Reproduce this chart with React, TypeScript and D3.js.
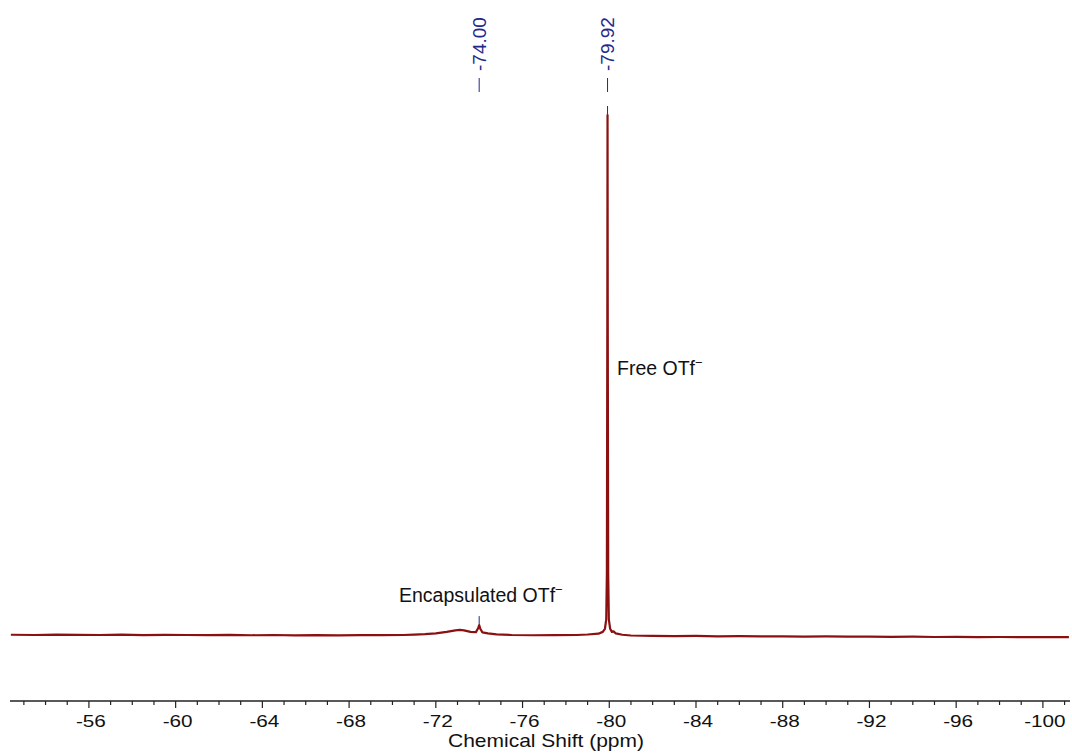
import React, { useEffect, useRef } from 'react';
import * as d3 from 'd3';

// chemical shift (ppm) of each point
const shifts = [
	-52.4, -53.5, -54.5, -55.5, -56.5, -57.5, -58.5, -59.5, -60.5, -61.5, -62.5, -63.5, -64.5, -65.5,
	-66.5, -67.5, -68.5, -69.5, -70.5, -71.0, -71.5, -72.0, -72.5, -72.9, -73.1, -73.3, -73.6, -73.85,
	-73.95, -74.0, -74.05, -74.15, -74.4, -74.8, -75.5, -76.5, -77.5, -78.5, -79.0, -79.5, -79.7, -79.8,
	-79.86, -79.89, -79.91, -79.92, -79.93, -79.95, -79.98, -80.04, -80.12, -80.2, -80.3, -80.6, -81.0,
	-82.0, -83.0, -84.0, -85.0, -86.0, -87.0, -88.0, -89.0, -90.0, -91.0, -92.0, -93.0, -94.0, -95.0,
	-96.0, -97.0, -98.0, -99.0, -100.0, -101.2,
];
// intensity, main peak = 100
const intensity = [
	0.05, 0.0, 0.08, 0.02, 0.0, 0.06, -0.02, 0.03, 0.0, -0.04, 0.02, -0.05, 0.0, -0.06, -0.02, -0.08,
	-0.04, -0.03, 0.0, 0.08, 0.15, 0.3, 0.6, 0.9, 1.0, 0.9, 0.6, 0.55, 1.3, 1.9, 1.2, 0.5, 0.3, 0.12,
	0.0, -0.05, -0.02, 0.0, 0.1, 0.25, 0.6, 1.2, 3, 12, 60, 100, 60, 12, 3, 1.2, 0.6, 0.7, 0.3, 0.05,
	-0.1, -0.15, -0.2, -0.18, -0.25, -0.22, -0.28, -0.25, -0.3, -0.27, -0.32, -0.3, -0.35, -0.33, -0.38,
	-0.36, -0.4, -0.38, -0.42, -0.4, -0.42,
];

const tickValues = [-56, -60, -64, -68, -72, -76, -80, -84, -88, -92, -96, -100];
const peakLabels = [-74.0, -79.92];
const peakHeights = [1.9, 100];

const App: React.FC = () => {
	const svgRef = useRef<SVGSVGElement | null>(null);

	useEffect(() => {
		if (!svgRef.current) return;
		const width = 1072;
		const height = 754;
		const font = 'Arial, "Liberation Sans", sans-serif';

		const x = d3.scaleLinear().domain([-52.36, -101.25]).range([10, 1070]);
		const y = d3.scaleLinear().domain([0, 100]).range([635, 115]);

		const svg = d3.select(svgRef.current);
		svg.selectAll('*').remove();
		svg.attr('width', width).attr('height', height);

		svg.append('rect').attr('width', width).attr('height', height).attr('fill', 'white');

		const pts: [number, number][] = shifts.map((s, i) => [s, intensity[i]]);
		const line = d3
			.line<[number, number]>()
			.x((d) => x(d[0]))
			.y((d) => y(d[1]));

		svg
			.append('path')
			.datum(pts)
			.attr('d', line)
			.attr('fill', 'none')
			.attr('stroke', '#8b1010')
			.attr('stroke-width', 2.2)
			.attr('stroke-linejoin', 'round');

		// axis
		const axisY = 701;
		const ax = svg.append('g').attr('transform', `translate(0,${axisY})`);
		ax.append('line').attr('x1', 10).attr('x2', 1070).attr('stroke', '#222').attr('stroke-width', 1.5);
		const minor = d3.range(-53, -102, -1);
		ax.selectAll('line.minor')
			.data(minor)
			.join('line')
			.attr('class', 'minor')
			.attr('x1', (d) => x(d))
			.attr('x2', (d) => x(d))
			.attr('y1', 0)
			.attr('y2', (d) => (tickValues.includes(d) ? 7 : 4))
			.attr('stroke', '#222')
			.attr('stroke-width', 1.2);
		// the original's text is drawn wide, so stretch it horizontally
		ax.selectAll('text.tick')
			.data(tickValues)
			.join('text')
			.attr('class', 'tick')
			.attr('transform', (d) => `translate(${x(d) + 2},26) scale(1.22,1)`)
			.attr('text-anchor', 'middle')
			.attr('font-family', font)
			.attr('font-size', 17)
			.attr('fill', '#111')
			.text((d) => String(d));

		svg
			.append('text')
			.attr('transform', 'translate(546,747) scale(1.2,1)')
			.attr('text-anchor', 'middle')
			.attr('font-family', font)
			.attr('font-size', 17.5)
			.attr('fill', '#111')
			.text('Chemical Shift (ppm)');

		// peak labels
		const blue = '#1f2a8a';
		peakLabels.forEach((p, i) => {
			const px = x(p);
			svg
				.append('text')
				.attr('transform', `translate(${px},71) rotate(-90)`)
				.attr('dominant-baseline', 'central')
				.attr('font-family', font)
				.attr('font-size', 19)
				.attr('fill', blue)
				.text(p.toFixed(2));
			svg.append('line').attr('x1', px).attr('x2', px).attr('y1', 78).attr('y2', 92).attr('stroke', blue).attr('stroke-width', 1);
			const top = y(peakHeights[i]);
			svg.append('line').attr('x1', px).attr('x2', px).attr('y1', top - 9).attr('y2', top - 1).attr('stroke', blue).attr('stroke-width', 1);
		});

		const addLabel = (tx: number, ty: number, main: string) => {
			const t = svg
				.append('text')
				.attr('x', tx)
				.attr('y', ty)
				.attr('font-family', font)
				.attr('font-size', 19.5)
				.attr('fill', '#111');
			t.append('tspan').text(main);
			t.append('tspan').attr('dy', -8).attr('font-size', 13).text('\u2212');
		};
		addLabel(399, 602, 'Encapsulated OTf');
		addLabel(617, 375, 'Free OTf');
	}, []);

	return <svg ref={svgRef} style={{ position: 'absolute', left: 0, top: 0 }}></svg>;
};

export default App;
